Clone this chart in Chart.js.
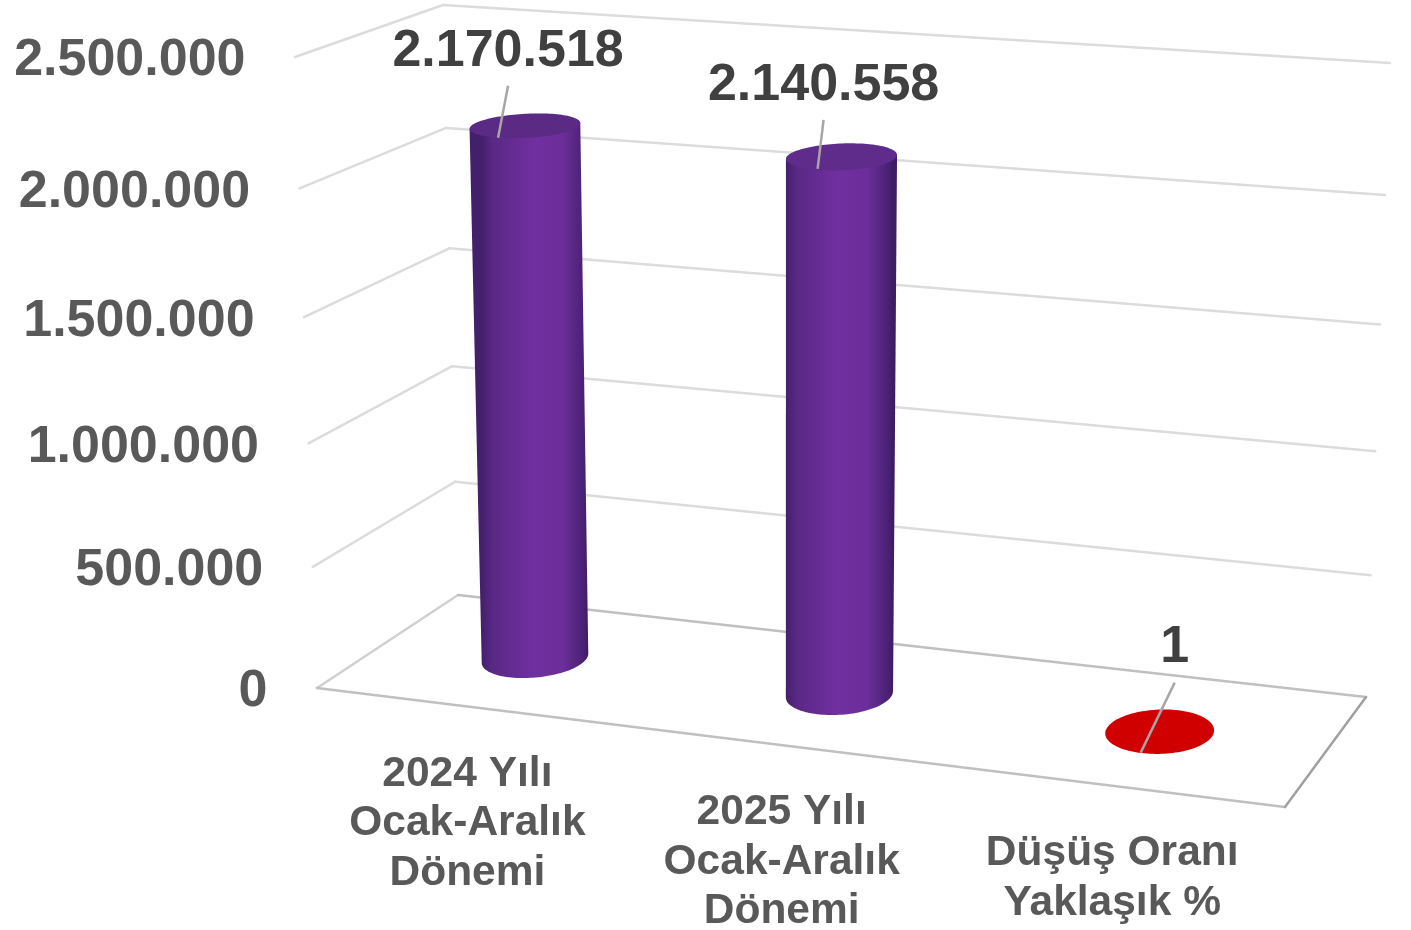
<!DOCTYPE html>
<html lang="tr">
<head>
<meta charset="utf-8">
<title>Düşüş Oranı</title>
<script src="https://cdn.jsdelivr.net/npm/chart.js@4"></script>
<style>
  html, body { margin: 0; padding: 0; background: #fff; }
  #wrap { width: 1411px; height: 930px; }
</style>
</head>
<body>
<div id="wrap"><canvas id="chart"></canvas></div>
<script>
// ---- data
var categories = [["2024 Yılı", "Ocak-Aralık", "Dönemi"], ["2025 Yılı", "Ocak-Aralık", "Dönemi"], ["Düşüş Oranı", "Yaklaşık %"]];
var values = [2170518, 2140558, 1];
var barColors = ["#7030a0", "#7030a0", "#d00000"];
var topColors = ["#5b2a85", "#5f2c8c", "#d00000"];
var axisMax = 2500000;
var axisStep = 500000;

// ---- 3d box, screen corners of the plot cube (f = front, b = back, l/r, 0 = floor, 1 = top)
var box = {
  fl0: [317, 688], fr0: [1285, 807], bl0: [458, 595], br0: [1366, 697],
  fl1: [295, 57],  fr1: [1311, 129], bl1: [443, 5],   br1: [1390, 63]
};
var heightPersp = 0.05, widthPersp = 0.073, barDepth = 0.507, barRadiusDepth = 0.2;
var labelOffsets = [[-17, -75], [-18, -72], [15, -85]];
var leaderLines = [[-17, -40, -27, 12], [-18, -37, -24, 12], [15, -49, -19, 21]];

function mix(a, b, t) {
  return [a[0] + (b[0] - a[0]) * t, a[1] + (b[1] - a[1]) * t];
}
// u across, v up, d into the screen, all 0..1
function project(u, v, d) {
  var t = v * (1 - heightPersp) / (1 - heightPersp * v);
  var f = mix(mix(box.fl0, box.fr0, u), mix(box.fl1, box.fr1, u), t);
  var b = mix(mix(box.bl0, box.br0, u), mix(box.bl1, box.br1, u), t);
  return mix(f, b, d);
}
function warpU(u) {
  return u * (1 - widthPersp) / (1 - widthPersp * u);
}
function tickText(v) {
  return v.toLocaleString("tr-TR");
}
function line(ctx, a, b, color, width) {
  ctx.strokeStyle = color;
  ctx.lineWidth = width;
  ctx.beginPath();
  ctx.moveTo(a[0], a[1]);
  ctx.lineTo(b[0], b[1]);
  ctx.stroke();
}

var FONT = '"Liberation Sans", Arial, sans-serif';

function ring(u, v, ru) {
  var pts = [];
  for (var i = 0; i < 120; i++) {
    var a = i / 120 * Math.PI * 2;
    pts.push(project(warpU(u + ru * Math.cos(a)), v, barDepth + barRadiusDepth * Math.sin(a)));
  }
  return pts;
}
function extremes(pts) {
  var lo = 0, hi = 0;
  pts.forEach(function (p, i) {
    if (p[0] < pts[lo][0]) lo = i;
    if (p[0] > pts[hi][0]) hi = i;
  });
  return [lo, hi];
}
function drawCylinder(ctx, u, v, ru, color, topColor) {
  var bottom = ring(u, 0, ru), top = ring(u, v, ru);
  var be = extremes(bottom), te = extremes(top);
  var i;
  if (v > 0.001) {
    var g = ctx.createLinearGradient(bottom[be[0]][0], 0, bottom[be[1]][0], 0);
    g.addColorStop(0, "#43206b");
    g.addColorStop(0.1, "#5a2885");
    g.addColorStop(0.5, color);
    g.addColorStop(0.76, "#6c2e9a");
    g.addColorStop(0.95, "#4a2275");
    g.addColorStop(1, "#3e1c63");
    ctx.fillStyle = g;
    ctx.beginPath();
    ctx.moveTo(top[te[0]][0], top[te[0]][1]);
    ctx.lineTo(bottom[be[0]][0], bottom[be[0]][1]);
    // front half of the floor ring, left extreme round to the right one
    for (i = be[0]; i !== be[1]; i = (i + 1) % 120) ctx.lineTo(bottom[i][0], bottom[i][1]);
    ctx.lineTo(bottom[be[1]][0], bottom[be[1]][1]);
    ctx.lineTo(top[te[1]][0], top[te[1]][1]);
    ctx.closePath();
    ctx.fill();
  }
  ctx.fillStyle = topColor;
  ctx.beginPath();
  top.forEach(function (p, k) { if (k) ctx.lineTo(p[0], p[1]); else ctx.moveTo(p[0], p[1]); });
  ctx.closePath();
  ctx.fill();
}

var box3d = {
  id: "box3d",
  // walls and floor, behind the bars
  beforeDatasetsDraw: function (chart) {
    var ctx = chart.ctx, y = chart.scales.y;
    ctx.save();
    ctx.lineCap = "round";
    ctx.lineJoin = "round";
    y.ticks.forEach(function (tick) {
      var v = (y.bottom - y.getPixelForValue(tick.value)) / (y.bottom - y.top);
      if (v > 0.001) {
        line(ctx, project(0, v, 0), project(0, v, 1), "#dcdcdc", 2.5);
        line(ctx, project(0, v, 1), project(1, v, 1), "#dcdcdc", 2.5);
      }
    });
    line(ctx, project(0, 0, 0), project(0, 0, 1), "#d0d0d0", 2.5);
    line(ctx, project(0, 0, 1), project(1, 0, 1), "#c0c0c0", 2.5);
    line(ctx, project(0, 0, 0), project(1, 0, 0), "#c0c0c0", 2.5);
    line(ctx, project(1, 0, 0), project(1, 0, 1), "#a0a0a0", 2.5);
    ctx.restore();
  },
  // the library's bar rectangles are only used for their geometry
  beforeDatasetDraw: function (chart, args) {
    var ctx = chart.ctx, area = chart.chartArea, w = area.right - area.left, h = area.bottom - area.top;
    args.meta.data.forEach(function (bar, i) {
      var u = (bar.x - area.left) / w, v = (area.bottom - bar.y) / h, ru = bar.width / 2 / w;
      drawCylinder(ctx, u, v, ru, barColors[i], topColors[i]);
    });
    return false;
  },
  afterDraw: function (chart) {
    var ctx = chart.ctx, area = chart.chartArea, w = area.right - area.left, h = area.bottom - area.top, y = chart.scales.y;
    var meta = chart.getDatasetMeta(0);
    ctx.save();
    ctx.textBaseline = "middle";

    // value axis labels, along the front edge of the left wall
    ctx.font = "bold 52px " + FONT;
    ctx.fillStyle = "#595959";
    ctx.textAlign = "right";
    y.ticks.forEach(function (tick) {
      var v = (y.bottom - y.getPixelForValue(tick.value)) / (y.bottom - y.top);
      var p = project(0, v, 0);
      ctx.fillText(tickText(tick.value), p[0] - 49.5, p[1] + 4);
    });

    meta.data.forEach(function (bar, i) {
      var u = (bar.x - area.left) / w, v = (area.bottom - bar.y) / h;
      var c = project(warpU(u), v, barDepth);

      // leader line and value
      var l = leaderLines[i];
      line(ctx, [c[0] + l[0], c[1] + l[1]], [c[0] + l[2], c[1] + l[3]], "#a6a6a6", 2.5);
      ctx.font = "bold 52px " + FONT;
      ctx.fillStyle = "#404040";
      ctx.textAlign = "center";
      ctx.fillText(tickText(values[i]), c[0] + labelOffsets[i][0], c[1] + labelOffsets[i][1] + 1);

      // category label under the front edge of the floor
      var f = project(warpU(u), 0, 0);
      ctx.font = "bold 42.5px " + FONT;
      ctx.fillStyle = "#595959";
      categories[i].forEach(function (txt, k) {
        ctx.fillText(txt, f[0] - 1, f[1] + 67.5 + k * 49.5);
      });
    });
    ctx.restore();
  }
};

var ctx1 = document.getElementById("chart");
var chart = new Chart(ctx1, {
  type: "bar",
  data: {
    labels: categories,
    datasets: [{
      label: "Düşüş Oranı",
      data: values,
      backgroundColor: barColors,
      barPercentage: 0.312,
      categoryPercentage: 1
    }]
  },
  options: {
    responsive: true,
    maintainAspectRatio: false,
    animation: false,
    layout: { padding: { left: 317, right: 126, top: 60, bottom: 241 } },
    plugins: { legend: { display: false }, title: { display: false }, tooltip: { enabled: false } },
    scales: {
      x: { display: false },
      y: { display: false, min: 0, max: axisMax, ticks: { stepSize: axisStep } }
    }
  },
  plugins: [box3d]
});
</script>
</body>
</html>
